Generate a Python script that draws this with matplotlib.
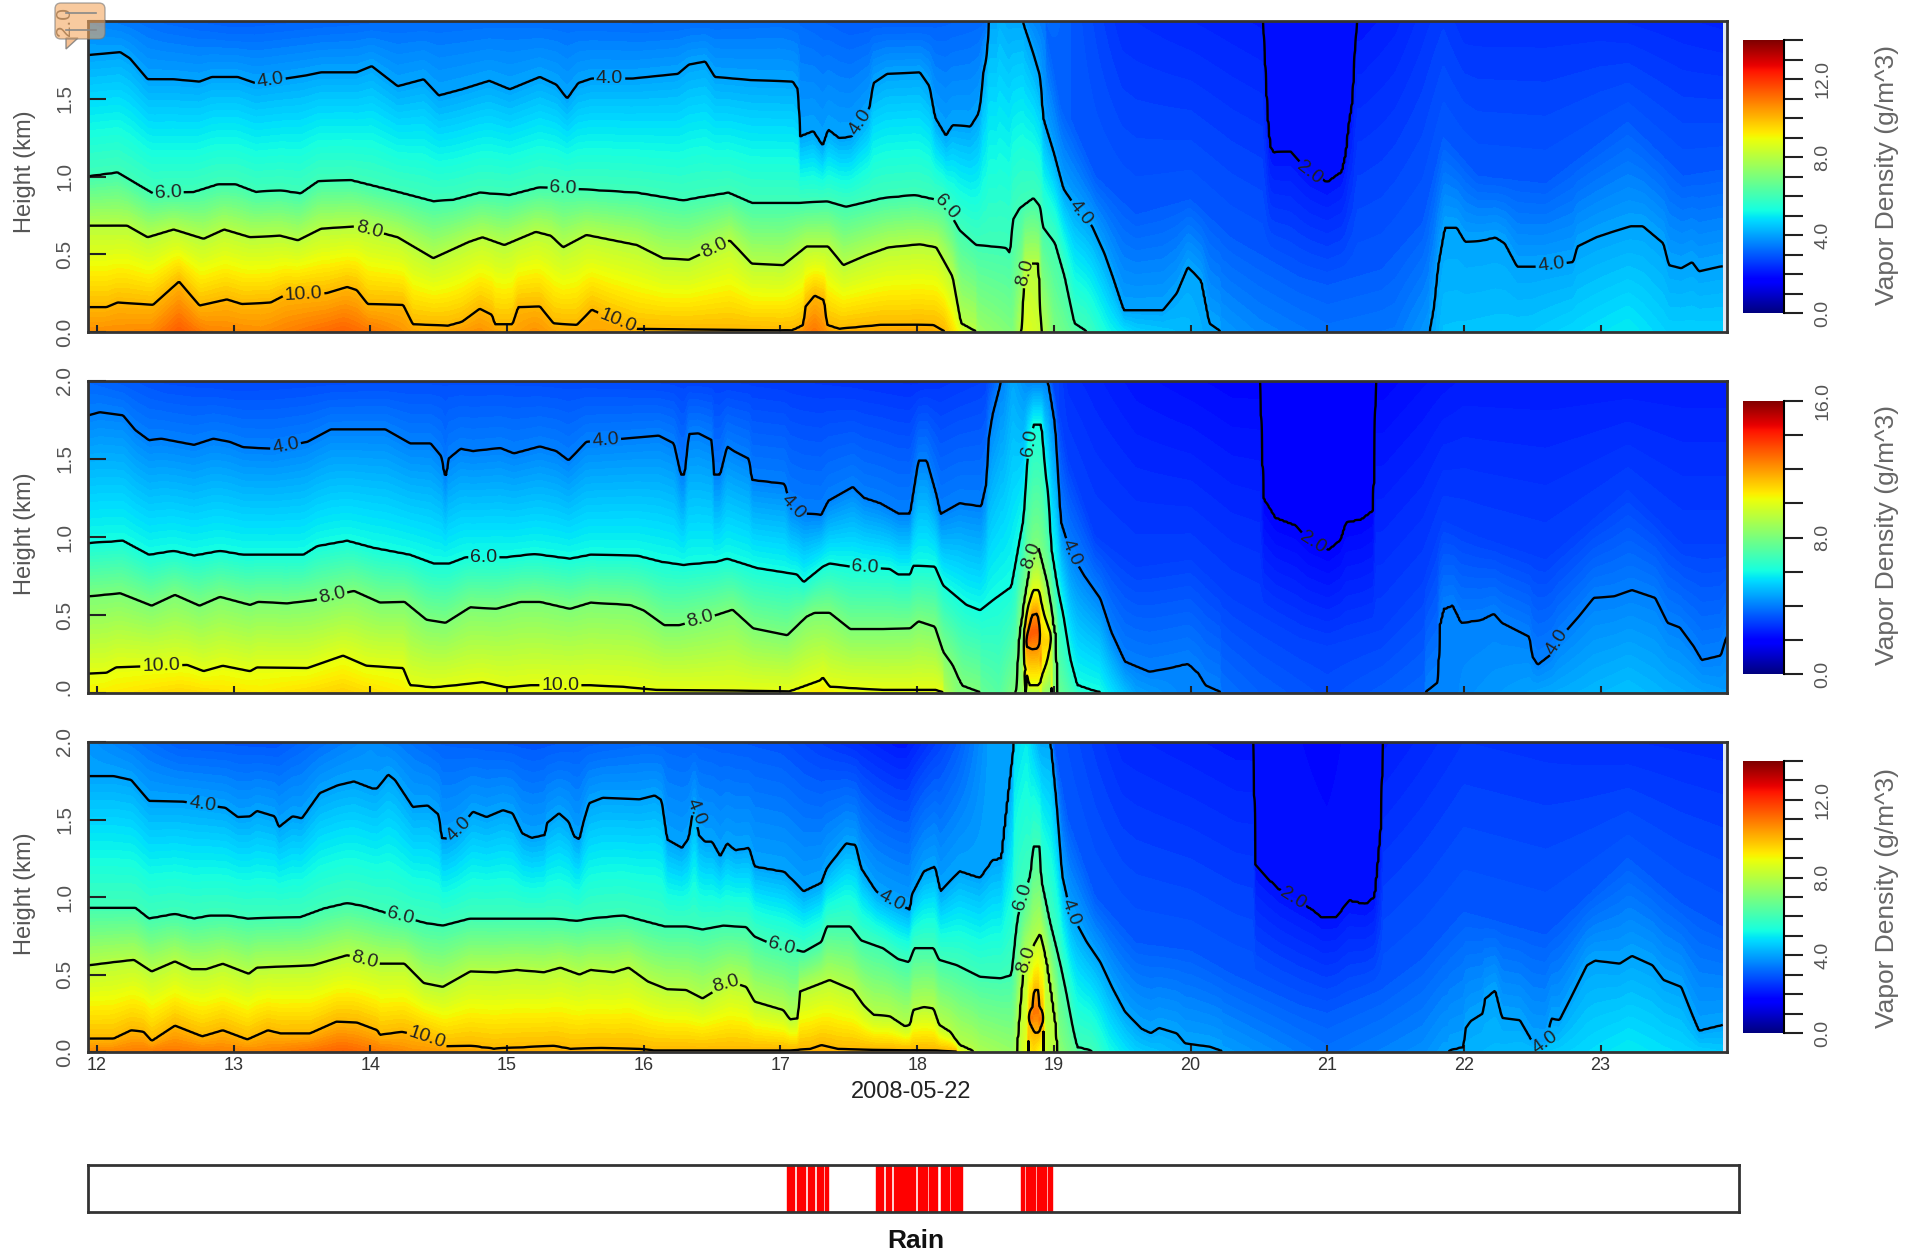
import numpy as np
import matplotlib
matplotlib.use('Agg')
import matplotlib.pyplot as plt
from matplotlib.patches import FancyBboxPatch, Polygon
from matplotlib.transforms import Bbox, TransformedBbox

plt.rcParams['font.family'] = ['Liberation Sans', 'DejaVu Sans']

W, H = 1916, 1252

# heights (km) read off the picture where vapour density crosses each level
# -0.05 = level is under the ground there, 2.2 = level is above the top
# ---------- top panel
h2_a_t = [20.50, 20.53, 20.56, 20.58, 20.61, 20.73, 20.87, 21.0, 21.11, 21.14, 21.16, 21.19, 21.2, 21.22, 21.25]
h2_a_z = [2.2, 2.0, 1.4, 1.19, 1.15, 1.16, 1.02, .96, 1.03, 1.15, 1.33, 1.5, 1.76, 2.0, 2.2]
h3_a_t = [18.9, 19.05, 19.3, 19.6, 20, 20.3, 20.8, 21, 21.4, 21.7, 21.85, 22.1, 22.6, 23.2, 23.6, 23.95]
h3_a_z = [2.2, 1.5, 1.0, .75, .85, .6, .35, .3, .4, .7, 1.25, 1.0, .95, 1.35, 1.0, 1.05]
h4_a_t = [11.93, 12.17, 12.24, 12.37, 12.56, 12.75, 12.84, 13.03, 13.16, 13.53, 13.64, 13.9, 14.01, 14.2, 14.39, 14.5, 14.67, 14.87, 15.02, 15.24, 15.36, 15.44, 15.52, 15.62, 15.92, 16.25, 16.33, 16.45, 16.52, 16.78, 17.09, 17.13, 17.14, 17.24, 17.31, 17.35, 17.43, 17.52, 17.65, 17.68, 17.78, 18.02, 18.09, 18.13, 18.21, 18.26, 18.39, 18.45, 18.47, 18.48, 18.51, 18.52, 18.54, 18.76, 18.78, 18.85, 18.9, 18.92, 19.0, 19.07, 19.14, 19.28, 19.37, 19.43, 19.51, 19.8, 19.9, 19.98, 20.08, 20.14, 20.21, 20.24, 21.73, 21.75, 21.78, 21.81, 21.86, 21.95, 22.01, 22.14, 22.23, 22.3, 22.39, 22.52, 22.8, 22.83, 22.97, 23.09, 23.22, 23.31, 23.46, 23.5, 23.59, 23.67, 23.72, 23.87, 23.95]
h4_a_z = [1.78, 1.80, 1.76, 1.625, 1.625, 1.61, 1.64, 1.64, 1.60, 1.65, 1.67, 1.67, 1.71, 1.58, 1.625, 1.52, 1.56, 1.615, 1.56, 1.64, 1.59, 1.50, 1.60, 1.63, 1.63, 1.66, 1.72, 1.74, 1.64, 1.62, 1.61, 1.556, 1.255, 1.29, 1.195, 1.30, 1.245, 1.255, 1.43, 1.6, 1.66, 1.67, 1.58, 1.38, 1.26, 1.33, 1.32, 1.405, 1.51, 1.65, 1.78, 1.95, 2.2, 2.2, 1.98, 1.79, 1.64, 1.38, 1.15, .92, .83, .68, .505, .355, .14, .14, .25, .42, .33, .055, .01, -.05, -.05, .01, .16, .42, .67, .67, .58, .59, .61, .57, .42, .42, .45, .55, .61, .645, .68, .68, .57, .43, .41, .45, .39, .42, .43]
h6_a_t = [11.93, 12.15, 12.41, 12.71, 12.89, 13.01, 13.16, 13.34, 13.49, 13.62, 13.86, 14.2, 14.46, 14.61, 14.8, 15.02, 15.24, 15.58, 15.95, 16.29, 16.41, 16.62, 16.79, 17.14, 17.34, 17.48, 17.75, 17.98, 18.19, 18.31, 18.43, 18.65, 18.68, 18.7, 18.75, 18.85, 18.9, 18.92, 19.01, 19.08, 19.15, 19.23, 19.27]
h6_a_z = [.999, 1.025, .89, .90, .95, .95, .90, .91, .89, .97, .975, .90, .84, .85, .895, .88, .93, .915, .895, .845, .865, .895, .83, .83, .84, .805, .86, .88, .84, .655, .56, .54, .505, .72, .795, .86, .805, .675, .57, .355, .055, .01, -.05]
h8_a_t = [11.93, 12.22, 12.37, 12.56, 12.78, 12.93, 13.12, 13.34, 13.47, 13.64, 13.9, 14.2, 14.46, 14.72, 14.82, 14.98, 15.21, 15.32, 15.41, 15.58, 15.95, 16.14, 16.33, 16.63, 16.79, 17.02, 17.19, 17.35, 17.46, 17.63, 17.79, 18.02, 18.14, 18.26, 18.32, 18.43, 18.45, 18.76, 18.78, 18.79, 18.89, 18.91]
h8_a_z = [.685, .685, .61, .66, .60, .66, .61, .62, .59, .665, .68, .61, .475, .58, .61, .56, .645, .62, .545, .625, .56, .475, .465, .59, .44, .43, .55, .55, .43, .495, .545, .565, .545, .355, .055, .005, -.05, -.05, .3, .44, .44, -.05]
h10_a_t = [11.93, 12.07, 12.15, 12.41, 12.6, 12.75, 12.95, 13.06, 13.27, 13.38, 13.68, 13.83, 13.9, 13.98, 14.24, 14.31, 14.57, 14.67, 14.8, 14.89, 14.91, 15.04, 15.08, 15.24, 15.34, 15.51, 15.62, 15.75, 15.95, 17.09, 17.17, 17.18, 17.25, 17.32, 17.34, 17.43, 17.73, 18.12, 18.2, 18.22]
h10_a_z = [.16, .16, .19, .175, .325, .17, .21, .18, .19, .24, .25, .29, .27, .18, .175, .05, .04, .065, .15, .11, .05, .05, .16, .165, .055, .045, .145, .09, .02, .01, .045, .16, .235, .205, .045, .02, .045, .045, .005, -.05]
surf_a_t = [11.93, 12.4, 12.6, 12.8, 13.2, 13.8, 14.1, 14.4, 14.8, 15.0, 15.2, 15.4, 15.7, 16.0, 16.6, 17.0, 17.25, 17.4, 18.0, 18.2, 18.3, 18.45, 18.7, 18.8, 18.9, 19.0, 19.2, 19.4, 19.6, 20, 20.2, 20.5, 21, 21.5, 21.75, 21.85, 22.5, 23.2, 23.5, 23.95]
surf_a_v = [10.6, 10.7, 11.4, 10.8, 10.6, 11.3, 10.8, 10.2, 10.6, 10.2, 10.6, 10.2, 10.3, 10.1, 10.05, 10.05, 11, 10.2, 10.4, 10, 9.0, 7.5, 7, 8.7, 8.3, 7, 6.2, 5.2, 4.6, 4.3, 3.9, 3.6, 3.3, 3.4, 3.9, 4.4, 4.5, 5, 4.6, 4.6]
top_a_t = [11.93, 12.5, 13, 14, 15, 16, 17, 17.5, 18, 18.5, 18.6, 19, 19.5, 20.5, 21, 21.5, 21.85, 22, 23, 23.9]
top_a_v = [3.6, 3.2, 3.0, 3.2, 3.3, 3.2, 3.3, 3.0, 3.0, 3.2, 4.2, 3.2, 2.4, 2.1, 1.9, 2.2, 2.6, 2.4, 2.4, 2.2]
lo10_a_t, lo10_a_z = [12, 23], [-1, -1]
lo12_a_t, lo12_a_z = [12, 23], [-1, -1]
h12_a_t, h12_a_z = [12, 23], [-.05, -.05]

# ---------- middle panel
h2_b_t = [20.50, 20.52, 20.53, 20.62, 20.77, 20.86, 21.01, 21.10, 21.14, 21.25, 21.34, 21.35, 21.36]
h2_b_z = [2.2, 1.6, 1.25, 1.12, 1.07, .98, .915, .98, 1.09, 1.11, 1.17, 1.6, 2.2]
h3_b_t = [18.95, 19.1, 19.3, 19.6, 20, 20.3, 20.8, 21, 21.4, 21.7, 21.85, 22.1, 22.6, 23.2, 23.6, 23.92]
h3_b_z = [2.2, 1.5, 1.0, .8, .85, .6, .35, .3, .4, .7, 1.1, 1.0, .85, 1.3, .95, .95]
h4_b_t = [11.94, 12.02, 12.19, 12.28, 12.38, 12.47, 12.71, 12.85, 12.97, 13.07, 13.29, 13.54, 13.71, 14.11, 14.29, 14.44, 14.52, 14.54, 14.56, 14.57, 14.66, 14.75, 14.95, 15.05, 15.24, 15.36, 15.45, 15.58, 15.85, 16.11, 16.22, 16.27, 16.30, 16.33, 16.40, 16.50, 16.51, 16.56, 16.61, 16.66, 16.77, 16.79, 17.03, 17.07, 17.17, 17.30, 17.35, 17.53, 17.61, 17.73, 17.86, 17.95, 18.01, 18.07, 18.14, 18.17, 18.31, 18.47, 18.51, 18.52, 18.55, 18.61, 18.63, 18.94, 18.96, 19.01, 19.05, 19.12, 19.22, 19.34, 19.42, 19.52, 19.7, 19.85, 19.98, 20.06, 20.11, 20.22, 20.24, 21.70, 21.72, 21.81, 21.82, 21.85, 21.92, 21.98, 22.13, 22.22, 22.28, 22.48, 22.5, 22.54, 22.65, 22.69, 22.84, 22.95, 23.1, 23.23, 23.4, 23.49, 23.58, 23.68, 23.74, 23.88, 23.92]
h4_b_z = [1.78, 1.80, 1.78, 1.685, 1.62, 1.63, 1.59, 1.63, 1.61, 1.575, 1.565, 1.61, 1.69, 1.69, 1.60, 1.60, 1.515, 1.40, 1.40, 1.50, 1.565, 1.55, 1.57, 1.535, 1.58, 1.55, 1.49, 1.61, 1.63, 1.65, 1.60, 1.40, 1.40, 1.66, 1.665, 1.62, 1.40, 1.40, 1.58, 1.55, 1.50, 1.365, 1.34, 1.205, 1.15, 1.14, 1.23, 1.32, 1.25, 1.215, 1.15, 1.15, 1.49, 1.49, 1.27, 1.145, 1.215, 1.195, 1.355, 1.61, 1.78, 1.985, 2.2, 2.2, 1.99, 1.72, 1.10, .905, .755, .605, .39, .2, .135, .16, .19, .125, .05, .005, -.05, -.05, .005, .07, .425, .54, .565, .45, .47, .51, .45, .36, .235, .18, .255, .34, .49, .61, .62, .66, .61, .45, .42, .3, .21, .24, .36]
h6_b_t = [11.94, 12.19, 12.38, 12.56, 12.71, 12.9, 13.07, 13.51, 13.61, 13.83, 14.02, 14.29, 14.46, 14.58, 14.7, 15, 15.2, 15.46, 15.61, 15.95, 16.13, 16.29, 16.53, 16.61, 16.83, 17.12, 17.17, 17.31, 17.36, 17.51, 17.8, 17.86, 17.95, 17.97, 18.13, 18.19, 18.36, 18.46, 18.57, 18.69, 18.73, 18.78, 18.80, 18.81, 18.85, 18.91, 18.94, 18.96, 18.98, 19.02, 19.07, 19.12, 19.17, 19.27, 19.34, 19.36]
h6_b_z = [.96, .975, .885, .91, .88, .91, .885, .885, .94, .975, .93, .885, .83, .83, .87, .87, .89, .86, .885, .88, .84, .82, .84, .86, .80, .76, .71, .81, .83, .81, .795, .76, .76, .815, .81, .69, .565, .53, .605, .68, .875, 1.12, 1.40, 1.55, 1.72, 1.72, 1.40, 1.27, .93, .71, .50, .22, .05, .02, .005, -.05]
h8_b_t = [11.94, 12.17, 12.4, 12.57, 12.75, 12.9, 13.12, 13.18, 13.39, 13.58, 13.88, 14.07, 14.25, 14.41, 14.55, 14.73, 14.92, 15.1, 15.24, 15.46, 15.61, 15.9, 16, 16.15, 16.26, 16.53, 16.65, 16.8, 17.05, 17.19, 17.25, 17.36, 17.51, 17.75, 17.95, 18.01, 18.13, 18.19, 18.26, 18.33, 18.46, 18.48, 18.72, 18.74, 18.75, 18.81, 18.85, 18.88, 18.91, 18.95, 19.0, 19.02, 19.03]
h8_b_z = [.62, .64, .56, .63, .56, .617, .565, .585, .575, .595, .655, .58, .585, .47, .45, .55, .54, .585, .585, .54, .58, .565, .53, .435, .435, .50, .535, .415, .37, .49, .515, .515, .41, .41, .415, .46, .425, .265, .18, .05, .005, -.05, -.05, .3, .4, .72, .92, .95, .85, .71, .45, .35, -.05]
h10_b_t = [11.94, 12.07, 12.14, 12.66, 12.78, 12.92, 13.12, 13.17, 13.54, 13.8, 13.97, 14.24, 14.29, 14.46, 14.63, 14.82, 15.0, 15.17, 15.61, 15.85, 16.09, 17.07, 17.29, 17.31, 17.36, 17.75, 18.14, 18.19, 18.21, 18.775, 18.78, 18.81, 18.85, 18.89, 18.93, 18.98, 18.985]
h10_b_z = [.125, .13, .165, .18, .14, .175, .14, .165, .16, .24, .175, .16, .05, .035, .05, .07, .035, .05, .05, .04, .02, .01, .08, .10, .04, .02, .02, .005, -.05, -.05, .39, .55, .66, .66, .5, .37, -.05]
lo10_b_t = [18.775, 18.78, 18.82, 18.89, 18.95, 18.98, 18.985]
lo10_b_z = [-1, .2, .05, .05, .2, .34, -1]
h12_b_t = [18.79, 18.80, 18.84, 18.88, 18.90, 18.91]
h12_b_z = [-.05, .35, .5, .51, .4, -.05]
lo12_b_t = [18.79, 18.80, 18.84, 18.88, 18.90, 18.91]
lo12_b_z = [-1, .3, .28, .285, .33, -1]
surf_b_t = [11.94, 12.6, 13.2, 13.8, 14.3, 15, 16, 17, 17.3, 17.5, 18.1, 18.3, 18.6, 18.85, 19.05, 19.2, 19.35, 19.6, 20, 20.5, 21, 21.7, 22, 23.2, 23.9]
surf_b_v = [10.4, 10.9, 10.5, 11, 10.4, 10.2, 10.1, 10.1, 10.6, 10.1, 10.1, 8, 7.2, 9, 7.5, 6.4, 5.9, 4.5, 4, 3.5, 3.2, 3.6, 4.2, 5.0, 4.4]
top_b_t = [11.94, 12.5, 13, 14, 15, 16, 17, 18, 18.5, 18.7, 19.1, 19.6, 21, 22, 23.9]
top_b_v = [3.6, 3.2, 3.1, 3.2, 3.2, 3.1, 2.9, 2.7, 3.0, 4.6, 2.7, 2.3, 1.8, 2.4, 2.4]

# ---------- bottom panel
h2_c_t = [20.45, 20.47, 20.47, 20.56, 20.65, 20.77, 20.89, 20.96, 21.07, 21.16, 21.28, 21.35, 21.37, 21.4, 21.41]
h2_c_z = [2.2, 1.42, 1.21, 1.12, 1.045, .98, .915, .865, .87, .975, .95, 1.0, 1.185, 1.5, 2.2]
h3_c_t = [18.95, 19.1, 19.3, 19.6, 20, 20.3, 20.8, 21, 21.4, 21.7, 22.0, 22.6, 23.2, 23.6, 23.9]
h3_c_z = [2.2, 1.5, 1.0, .7, .65, .5, .3, .25, .4, .6, .9, .75, 1.25, .95, .8]
h4_c_t = [11.94, 12.12, 12.25, 12.38, 12.63, 12.75, 12.94, 13.03, 13.12, 13.17, 13.3, 13.33, 13.43, 13.5, 13.63, 13.76, 13.88, 14.01, 14.05, 14.13, 14.18, 14.31, 14.42, 14.5, 14.52, 14.56, 14.63, 14.75, 14.85, 14.97, 15.04, 15.11, 15.18, 15.28, 15.29, 15.38, 15.45, 15.49, 15.53, 15.56, 15.6, 15.7, 15.97, 16.08, 16.13, 16.17, 16.28, 16.33, 16.37, 16.4, 16.45, 16.5, 16.56, 16.61, 16.67, 16.77, 16.81, 17.03, 17.17, 17.3, 17.34, 17.48, 17.55, 17.59, 17.7, 17.78, 17.95, 17.96, 18.05, 18.13, 18.17, 18.31, 18.46, 18.55, 18.62, 18.65, 18.68, 18.71, 18.73, 18.96, 18.98, 19.02, 19.06, 19.12, 19.24, 19.34, 19.43, 19.52, 19.64, 19.71, 19.77, 19.9, 19.96, 20.14, 20.23, 20.25, 21.86, 21.9, 22.0, 22.01, 22.05, 22.14, 22.15, 22.23, 22.28, 22.41, 22.5, 22.6, 22.64, 22.7, 22.78, 22.9, 22.96, 23.14, 23.23, 23.38, 23.46, 23.59, 23.67, 23.72, 23.9, 23.92]
h4_c_z = [1.78, 1.78, 1.755, 1.62, 1.615, 1.6, 1.575, 1.515, 1.52, 1.555, 1.52, 1.45, 1.52, 1.507, 1.67, 1.72, 1.745, 1.70, 1.70, 1.79, 1.755, 1.58, 1.59, 1.53, 1.38, 1.375, 1.42, 1.55, 1.515, 1.56, 1.54, 1.41, 1.38, 1.40, 1.475, 1.54, 1.485, 1.39, 1.37, 1.485, 1.605, 1.64, 1.63, 1.655, 1.625, 1.37, 1.315, 1.38, 1.615, 1.40, 1.355, 1.355, 1.26, 1.345, 1.30, 1.315, 1.195, 1.16, 1.035, 1.09, 1.185, 1.345, 1.335, 1.185, 1.035, .99, .915, 1.01, 1.165, 1.195, 1.035, 1.165, 1.12, 1.23, 1.25, 1.51, 1.745, 1.99, 2.2, 2.2, 1.99, 1.615, 1.14, .905, .71, .58, .41, .26, .15, .12, .155, .12, .055, .035, .005, -.05, -.05, .01, .03, .15, .2, .25, .34, .4, .22, .205, .065, .055, .215, .205, .345, .56, .59, .57, .62, .56, .465, .42, .24, .135, .175, .2]
h6_c_t = [11.94, 12.28, 12.38, 12.57, 12.71, 12.83, 12.96, 13.1, 13.49, 13.66, 13.83, 13.95, 14.12, 14.41, 14.53, 14.73, 15.34, 15.51, 15.61, 15.85, 16.15, 16.31, 16.43, 16.58, 16.75, 16.81, 16.9, 17.17, 17.3, 17.34, 17.51, 17.59, 17.75, 17.86, 17.94, 17.98, 18.12, 18.16, 18.29, 18.46, 18.61, 18.69, 18.73, 18.75, 18.83, 18.85, 18.9, 18.905, 18.97, 19.05, 19.09, 19.14, 19.17, 19.27, 19.3]
h6_c_z = [.93, .93, .86, .89, .86, .88, .88, .86, .87, .925, .96, .94, .895, .83, .815, .86, .86, .845, .86, .88, .81, .81, .79, .815, .805, .745, .71, .645, .71, .81, .81, .72, .67, .6, .58, .67, .67, .595, .56, .485, .475, .495, .82, .925, 1.14, 1.325, 1.325, 1.12, .84, .56, .39, .15, .03, .01, -.05]
h8_c_t = [11.94, 12.12, 12.27, 12.4, 12.57, 12.69, 12.8, 12.92, 13.11, 13.17, 13.58, 13.83, 14.07, 14.25, 14.39, 14.53, 14.73, 14.92, 15.07, 15.27, 15.39, 15.53, 15.61, 15.78, 15.89, 16.03, 16.17, 16.31, 16.43, 16.63, 16.75, 16.81, 17.02, 17.07, 17.13, 17.14, 17.36, 17.53, 17.61, 17.68, 17.8, 17.91, 17.95, 17.97, 18.05, 18.12, 18.16, 18.24, 18.31, 18.41, 18.43, 18.72, 18.74, 18.77, 18.79, 18.9, 18.95, 18.98, 19.02, 19.03]
h8_c_z = [.56, .58, .595, .52, .585, .535, .535, .57, .505, .545, .56, .625, .57, .57, .445, .42, .52, .515, .53, .515, .545, .50, .53, .515, .545, .455, .405, .40, .345, .455, .42, .325, .27, .21, .215, .39, .465, .40, .30, .24, .23, .165, .175, .27, .29, .28, .175, .13, .045, .005, -.05, -.05, .15, .475, .585, .765, .585, .41, .15, -.05]
h10_c_t = [11.94, 12.12, 12.25, 12.34, 12.4, 12.57, 12.77, 12.92, 13.1, 13.25, 13.34, 13.56, 13.75, 13.9, 14.05, 14.07, 14.23, 14.39, 14.56, 14.73, 14.9, 15.34, 15.46, 15.69, 15.97, 16.07, 17.07, 17.22, 17.3, 17.42, 18.14, 18.29, 18.31, 18.81, 18.82, 18.85, 18.855, 18.885, 18.89, 18.92, 18.93]
h10_c_z = [.085, .085, .14, .13, .07, .17, .10, .14, .08, .14, .12, .12, .195, .19, .14, .11, .13, .10, .035, .04, .02, .04, .02, .025, .02, .01, .01, .02, .045, .02, .01, .005, -.05, -.05, .25, .3, .4, .4, .3, .25, -.05]
lo10_c_t = [18.81, 18.82, 18.86, 18.89, 18.92, 18.93]
lo10_c_z = [-1, .2, .125, .125, .2, -1]
lo12_c_t, lo12_c_z = [12, 23], [-1, -1]
h12_c_t, h12_c_z = [12, 23], [-.05, -.05]
surf_c_t = [11.94, 12.5, 13.2, 13.8, 14.3, 15, 16, 17, 17.3, 17.5, 18, 18.3, 18.45, 18.7, 18.85, 19, 19.2, 19.3, 19.4, 19.6, 20, 20.3, 21, 21.7, 22, 22.5, 23.2, 23.9]
surf_c_v = [10.7, 11, 10.7, 11.3, 10.6, 10.3, 10.1, 10.05, 10.2, 10.05, 10.05, 9, 7.8, 7.4, 9.5, 7.5, 6.3, 5.9, 5.3, 4.6, 4.1, 3.9, 3.3, 3.7, 4.2, 4.4, 5.0, 4.5]
top_c_t = [11.94, 12.6, 13.3, 14, 14.5, 15.2, 16, 17, 17.9, 18.3, 18.8, 19, 19.5, 20.5, 21, 22, 23, 23.9]
top_c_v = [3.8, 3.0, 2.9, 3.7, 3.1, 2.9, 3.2, 2.9, 2.0, 3.0, 5, 3.0, 2.3, 2.0, 1.8, 2.5, 2.4, 2.3]

# contour label positions (hour, km), per panel and level
labels_a = {2: [(20.87, 1.02)], 4: [(13.27, 1.6), (15.75, 1.62), (17.58, 1.35), (19.19, .76), (22.64, .42)],
            6: [(12.52, .90), (15.41, .92), (18.2, .8)], 8: [(13.99, .66), (16.51, .55), (18.8, .38)],
            10: [(13.51, .24), (15.82, .1)]}
labels_b = {2: [(20.9, .97)], 4: [(13.38, 1.58), (15.72, 1.62), (17.1, 1.2), (19.13, .9), (22.68, .33)],
            6: [(14.83, .87), (17.62, .8), (18.83, 1.6)], 8: [(13.72, .62), (16.41, .47), (18.83, .88)],
            10: [(12.47, .17), (15.39, .05)]}
labels_c = {2: [(20.75, .99)], 4: [(12.77, 1.6), (14.66, 1.43), (16.37, 1.55), (17.81, .97), (19.12, .9), (22.6, .06)],
            6: [(14.22, .87), (17.01, .69), (18.77, 1.0)], 8: [(13.96, .6), (16.59, .45), (18.79, .6)],
            10: [(14.41, .08)]}

rain_start = [17.08, 17.15, 17.23, 17.30, 17.36, 17.73, 17.80, 17.86, 17.94, 18.03, 18.11, 18.20, 18.27, 18.78, 18.82, 18.90, 18.98]
rain_end = [17.13, 17.21, 17.28, 17.34, 17.38, 17.78, 17.84, 17.93, 18.01, 18.10, 18.17, 18.26, 18.35, 18.80, 18.88, 18.96, 19.01]

hours = list(range(12, 24))
heights = [0.0, 0.5, 1.0, 1.5, 2.0]


def px_axes(l, t, r, b):
    return fig.add_axes([l / W, 1 - b / H, (r - l) / W, (b - t) / H])


def line(ts, vals, t):
    o = np.argsort(ts, kind='stable')
    return np.interp(t, np.array(ts, float)[o], np.array(vals, float)[o])


def build_field(t, z, cur):
    lev = {L: line(cur[L][0], cur[L][1], t) for L in (12, 10, 8, 6, 4, 3, 2)}
    lo10 = line(cur['lo10'][0], cur['lo10'][1], t)
    lo12 = line(cur['lo12'][0], cur['lo12'][1], t)
    surf = line(cur['surf'][0], cur['surf'][1], t)
    top = line(cur['top'][0], cur['top'][1], t)
    out = np.zeros((len(z), len(t)))
    for i in range(len(t)):
        s_lo, s_hi, t_lo, t_hi = 0, 30, 0, 30
        los = {10: lo10[i], 12: lo12[i]}
        for L in (12, 10, 8, 6, 4, 2):
            h = lev[L][i]
            if h <= 0 or los.get(L, -1) > 0:
                s_hi = min(s_hi, L)
            else:
                s_lo = max(s_lo, L)
            if h >= 2:
                t_lo = max(t_lo, L)
            else:
                t_hi = min(t_hi, L)
        s = np.clip(surf[i], s_lo + .05, s_hi - .05)
        tp = np.clip(top[i], t_lo + .05, t_hi - .05)
        zs, vs = [0.0], [s]
        if lo10[i] > 0:
            zs.append(lo10[i])
            vs.append(10)
            if lo12[i] > 0:
                zs.append(lo12[i])
                vs.append(12)
                zs.append((lo12[i] + lev[12][i]) / 2)
                vs.append(13)
            else:
                zs.append((lo10[i] + lev[10][i]) / 2)
                vs.append(11)
        for L in (12, 10, 8, 6, 4, 3, 2):
            h = lev[L][i]
            if h <= 0 or h >= 2:
                continue
            if L == 3 and not (lev[4][i] < h < lev[2][i]):
                continue
            zs.append(h)
            vs.append(L)
        zs.append(2.0)
        vs.append(tp)
        zs = np.array(zs)
        vs = np.array(vs, float)
        o = np.argsort(zs, kind='stable')
        out[:, i] = np.interp(z, zs[o], vs[o])
    return out


panels = [
    dict(box=(88, 21, 1727, 332), cbar=(1743, 40, 1784, 313), vmax=14, cb_every=1, cb_lab=[0, 4, 8, 12], tmax=23.895,
         labels=labels_a, ylab=172, vlab=175,
         cur={2: (h2_a_t, h2_a_z), 3: (h3_a_t, h3_a_z), 4: (h4_a_t, h4_a_z), 6: (h6_a_t, h6_a_z), 8: (h8_a_t, h8_a_z),
              10: (h10_a_t, h10_a_z), 12: (h12_a_t, h12_a_z), 'lo10': (lo10_a_t, lo10_a_z), 'lo12': (lo12_a_t, lo12_a_z),
              'surf': (surf_a_t, surf_a_v), 'top': (top_a_t, top_a_v)}),
    dict(box=(88, 381, 1727, 693), cbar=(1743, 401, 1784, 674), vmax=16, cb_every=2, cb_lab=[0, 8, 16], tmax=23.925,
         labels=labels_b, ylab=534, vlab=535,
         cur={2: (h2_b_t, h2_b_z), 3: (h3_b_t, h3_b_z), 4: (h4_b_t, h4_b_z), 6: (h6_b_t, h6_b_z), 8: (h8_b_t, h8_b_z),
              10: (h10_b_t, h10_b_z), 12: (h12_b_t, h12_b_z), 'lo10': (lo10_b_t, lo10_b_z), 'lo12': (lo12_b_t, lo12_b_z),
              'surf': (surf_b_t, surf_b_v), 'top': (top_b_t, top_b_v)}),
    dict(box=(88, 742, 1727, 1052), cbar=(1743, 761, 1784, 1033), vmax=14, cb_every=1, cb_lab=[0, 4, 8, 12], tmax=23.895,
         labels=labels_c, ylab=894, vlab=898,
         cur={2: (h2_c_t, h2_c_z), 3: (h3_c_t, h3_c_z), 4: (h4_c_t, h4_c_z), 6: (h6_c_t, h6_c_z), 8: (h8_c_t, h8_c_z),
              10: (h10_c_t, h10_c_z), 12: (h12_c_t, h12_c_z), 'lo10': (lo10_c_t, lo10_c_z), 'lo12': (lo12_c_t, lo12_c_z),
              'surf': (surf_c_t, surf_c_v), 'top': (top_c_t, top_c_v)}),
]

fig = plt.figure(figsize=(W / 100, H / 100), dpi=100)
edge = '#333333'
grey = '#555555'

for n, p in enumerate(panels):
    ax = px_axes(*p['box'])
    t = np.arange(11.934, p['tmax'] + .005, .01)
    z = np.linspace(0, 2, 201)
    field = build_field(t, z, p['cur'])
    ax.contourf(t, z, field, levels=np.arange(0, p['vmax'] + .01, .125), cmap='jet', vmin=0, vmax=p['vmax'], extend='both')
    for L in (2, 4, 6, 8, 10, 12):
        cs = ax.contour(t, z, field, levels=[L], colors='k', linewidths=1.7)
        ax.set_xlim(11.934, 23.925)
        ax.set_ylim(0, 2)
        if L in p['labels']:
            ax.clabel(cs, fmt='%.1f', fontsize=14, colors='#222222', manual=p['labels'][L], inline_spacing=2)
    ax.set_facecolor('#dde6f2')
    ax.set_xticks(hours)
    ax.set_yticks(heights)
    ax.set_yticklabels(['%.1f' % v for v in heights], rotation=90, va='center', fontsize=15, color=grey)
    ax.tick_params(axis='y', direction='in', length=13, width=1.5, pad=10, color='#222222')
    ax.tick_params(axis='x', direction='in', length=5, width=1.5, color='#222222')
    if n == 2:
        ax.set_xticklabels([str(h) for h in hours], fontsize=13, color='#333333')
    else:
        ax.set_xticklabels([])
    for sp in ax.spines.values():
        sp.set_linewidth(2)
        sp.set_color(edge)
    if n == 1:
        # the 0.0 of the middle panel is cut off in the original
        lab = ax.get_yticklabels()[0]
        lab.set_clip_on(True)
        lab.set_clip_box(TransformedBbox(Bbox([[0, 1 - 697 / H], [1, 1]]), fig.transFigure))
    fig.text(25 / W, 1 - p['ylab'] / H, 'Height (km)', rotation=90, ha='center', va='center', fontsize=17, color=grey)

    cb = px_axes(*p['cbar'])
    grad = np.linspace(0, p['vmax'], 256).reshape(-1, 1)
    cb.imshow(grad, aspect='auto', origin='lower', cmap='jet', vmin=0, vmax=p['vmax'], extent=[0, 1, 0, p['vmax']])
    cb.set_xticks([])
    cb.yaxis.tick_right()
    cb.set_yticks(np.arange(0, p['vmax'] + .01, p['cb_every']))
    cb.set_yticklabels(['%.1f' % v if v in p['cb_lab'] else '' for v in np.arange(0, p['vmax'] + .01, p['cb_every'])],
                       rotation=90, va='center', fontsize=14, color=grey)
    cb.tick_params(axis='y', length=14, width=1.5, pad=8, color='#222222')
    for side, sp in cb.spines.items():
        sp.set_visible(side == 'right')
        sp.set_linewidth(1.5)
    fig.text(1887 / W, 1 - p['vlab'] / H, 'Vapor Density (g/m^3)', rotation=90, ha='center', va='center',
             fontsize=19, color='#666666')

fig.text(911 / W, 1 - 1092 / H, '2008-05-22', ha='center', va='center', fontsize=17, color='#222222')

ax_rain = px_axes(88, 1165, 1739, 1212)
ax_rain.broken_barh([(s, e - s) for s, e in zip(rain_start, rain_end)], (0, 1), color='#ff0000')
ax_rain.set_xlim(12, 24)
ax_rain.set_ylim(0, 1)
ax_rain.set_xticks([])
ax_rain.set_yticks([])
for sp in ax_rain.spines.values():
    sp.set_linewidth(2)
    sp.set_color(edge)
fig.text(916 / W, 1 - 1241 / H, 'Rain', ha='center', va='center', fontsize=19, fontweight='bold', color='#111111')

# the little note icon sitting over the first tick label
over = fig.add_axes([0, 0, 1, 1], zorder=10)
over.set_xlim(0, W)
over.set_ylim(H, 0)
over.axis('off')
over.patch.set_alpha(0)
over.add_patch(Polygon([(66, 38), (66, 49), (78, 38)], closed=True, fc='#f4b27a', ec='#777777', lw=1, alpha=.8))
over.add_patch(FancyBboxPatch((58, 6), 44, 30, boxstyle='round,pad=3,rounding_size=6', fc='#f4a860', ec='#777777', lw=1, alpha=.6))
over.plot([66, 96], [13, 13], color='#888888', lw=1.2)
over.plot([66, 96], [30, 30], color='#888888', lw=1.2)

fig.savefig('out.png', dpi=100)
